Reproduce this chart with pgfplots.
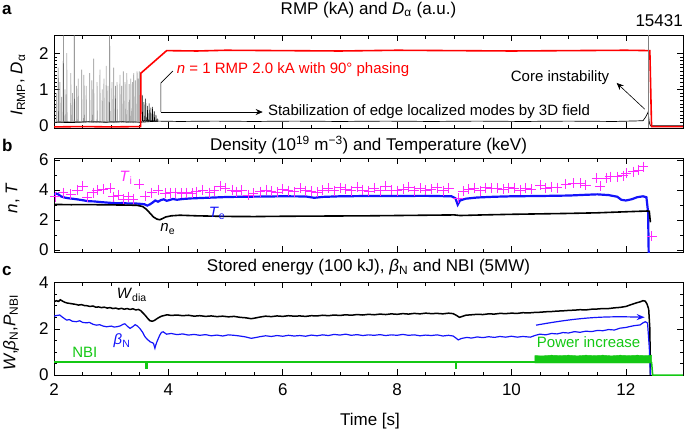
\documentclass[border=0pt]{standalone}
\usepackage{fontspec}
\setmainfont{Liberation Sans}
\usepackage{pgfplots}
\pgfplotsset{compat=1.18}
\usetikzlibrary{arrows.meta}

\definecolor{rmpred}{RGB}{255,0,0}
\definecolor{tiMag}{RGB}{255,40,255}
\definecolor{teBlue}{RGB}{20,20,250}
\definecolor{nbiGreen}{RGB}{20,200,20}

\newcommand{\fT}{\fontsize{17}{19}\selectfont}
\newcommand{\fN}{\fontsize{15}{17}\selectfont}

\pgfplotsset{
  panel/.style={
    scale only axis, width=629pt, anchor=south west,
    xmin=2, xmax=13, xtick={2,4,6,8,10,12}, minor x tick num=3,
    tick align=inside, major tick length=6pt, minor tick length=3.5pt,
    axis line style={line width=0.8pt},
    every tick/.style={black, line width=0.6pt},
    tick label style={font=\fT},
    xticklabel style={yshift=-5pt},
    yticklabel style={xshift=-2pt},
    /pgf/number format/assume math mode=true,
  }
}

\begin{document}
\begin{tikzpicture}

% ---------- a: RMP and D-alpha
\begin{axis}[panel, at={(54pt,-128pt)}, height=93pt,
    ymin=-0.06, ymax=2.5, ytick={0,1,2}, minor y tick num=9,
    xticklabels={}]
  % ELM spikes before RMP
  \addplot[black!30, line width=0.8pt] coordinates {
    (2.00,0.1)(2.04,0.1)(2.043,0.9)(2.05,0.12)(2.10,0.1)(2.103,1.2)(2.11,0.12)
    (2.13,0.1)(2.133,0.8)(2.14,0.12)(2.19,0.1)(2.193,1.0)(2.20,0.12)
    (2.22,0.1)(2.223,2.0)(2.23,0.12)(2.29,0.1)(2.293,1.45)(2.30,0.12)
    (2.32,0.1)(2.323,0.9)(2.33,0.12)(2.39,0.1)(2.393,1.1)(2.40,0.12)
    (2.42,0.1)(2.423,1.3)(2.43,0.12)(2.48,0.1)(2.483,1.55)(2.49,0.12)
    (2.56,0.1)(2.563,1.1)(2.57,0.12)(2.62,0.1)(2.623,1.45)(2.63,0.12)
    (2.69,0.1)(2.693,1.85)(2.70,0.12)(2.75,0.1)(2.753,1.2)(2.76,0.12)
    (2.80,0.1)(2.803,1.55)(2.81,0.12)(2.84,0.1)(2.843,1.0)(2.85,0.12)
    (2.87,0.1)(2.873,1.3)(2.88,0.12)(2.91,0.1)(2.913,1.65)(2.92,0.12)
    (2.94,0.1)(2.943,1.1)(2.95,0.12)(3.01,0.1)(3.013,1.2)(3.02,0.12)
    (3.04,0.1)(3.043,1.6)(3.05,0.12)(3.10,0.1)(3.103,1.2)(3.11,0.12)
    (3.15,0.1)(3.153,1.4)(3.16,0.12)(3.18,0.1)(3.183,1.1)(3.19,0.12)
    (3.21,0.1)(3.213,1.5)(3.22,0.12)(3.24,0.1)(3.243,1.2)(3.25,0.12)
    (3.27,0.1)(3.273,1.45)(3.28,0.12)(3.34,0.1)(3.343,1.3)(3.35,0.12)
    (3.37,0.1)(3.373,1.2)(3.38,0.12)(3.39,0.1)(3.393,1.45)(3.40,0.12)
    (3.42,0.1)(3.423,1.25)(3.43,0.12)(3.45,0.1)(3.453,1.5)(3.46,0.12)
    (3.47,0.1)(3.473,1.3)(3.48,0.12)(3.49,0.1)(3.493,1.5)(3.50,0.12)
  };
  \addplot[black!60, line width=0.5pt] coordinates {
    (2.07,0.1)(2.073,1.6)(2.08,0.12)(2.16,0.1)(2.163,3.0)(2.17,0.12)
    (2.35,0.1)(2.353,3.0)(2.36,0.12)(2.52,0.1)(2.523,1.4)(2.53,0.12)
    (2.66,0.1)(2.663,1.25)(2.67,0.12)(2.97,0.1)(2.973,3.0)(2.98,0.12)
    (3.07,0.1)(3.073,1.1)(3.08,0.12)(3.31,0.1)(3.313,1.15)(3.32,0.12)
  };
  % smaller ELMs after RMP
  \addplot[black, line width=0.5pt] coordinates {
    (3.52,0.1)(3.54,0.12)(3.543,0.85)(3.55,0.15)(3.57,0.12)(3.573,0.65)(3.58,0.15)
    (3.60,0.12)(3.603,0.75)(3.61,0.15)(3.63,0.12)(3.633,0.55)(3.64,0.15)
    (3.66,0.12)(3.663,0.62)(3.67,0.15)(3.69,0.12)(3.693,0.5)(3.70,0.15)
    (3.72,0.12)(3.723,0.52)(3.73,0.15)(3.75,0.12)(3.753,0.4)(3.76,0.14)
    (3.78,0.12)(3.783,0.3)(3.79,0.13)(3.81,0.12)(3.813,0.2)(3.82,0.12)
  };
  % D-alpha baseline
  \addplot[black, line width=0.7pt] coordinates {
    (2.0,0.10)(2.3,0.09)(2.6,0.11)(2.9,0.10)(3.2,0.11)(3.52,0.10)
    (3.82,0.13)(4.2,0.12)(4.8,0.13)(5.5,0.12)(6.2,0.13)(7.0,0.12)(7.8,0.13)
    (8.6,0.12)(9.4,0.13)(10.2,0.12)(11.0,0.13)(11.8,0.12)(12.3,0.14)
    (12.35,0.25)(12.39,0.38)(12.41,0.10)(12.43,0.0)(13,0.0)
  };
  % RMP coil current
  \addplot[rmpred, line width=1.6pt] coordinates {
    (2.00,-0.03)(2.5,-0.02)(3.0,-0.03)(3.515,-0.02)(3.52,1.45)(3.97,2.07)
    (4.5,2.06)(5.0,2.08)(6.0,2.07)(7.0,2.06)(8.0,2.08)(9.0,2.07)
    (10.0,2.06)(11.0,2.07)(12.0,2.08)(12.42,2.07)(12.45,-0.02)(13,-0.02)
  };
  \draw[gray, line width=0.5pt] (axis cs:12.40,-0.06) -- (axis cs:12.40,2.5);
  \node[rmpred, font=\fN] at (axis cs:6.18,1.54)
    {\textit{n} = 1 RMP 2.0 kA with 90° phasing};
  \draw[black, line width=0.6pt] (axis cs:4.08,1.51) -- (axis cs:3.87,1.18)
    -- (axis cs:3.87,0.38);
  \draw[black, line width=0.6pt, -{Stealth[length=7pt,width=6pt]}]
    (axis cs:3.87,0.38) -- (axis cs:5.65,0.38);
  \node[anchor=west, font=\fN, inner sep=0pt] at (axis cs:5.74,0.39)
    {Stabilization of edge localized modes by 3D field};
  \node[font=\fN] at (axis cs:10.85,1.34) {Core instability};
  \draw[black, line width=0.6pt, -{Stealth[length=7pt,width=6pt]}]
    (axis cs:12.33,0.46) -- (axis cs:11.84,1.18);
\end{axis}

% ---------- b: density and temperature
\begin{axis}[panel, at={(54pt,-252pt)}, height=94pt,
    ymin=-0.13, ymax=6.13, ytick={0,2,4,6}, minor y tick num=1,
    xticklabels={}]
  \addplot[only marks, mark=+, mark size=5pt, tiMag, mark options={line width=0.6pt}]
  coordinates {
    (2.02,3.55)(2.16,3.82)(2.29,3.73)(2.40,4.00)(2.50,4.27)(2.58,3.51)(2.68,3.82)
    (2.75,4.00)(2.86,4.04)(2.98,4.11)(3.04,3.56)(3.12,3.67)(3.21,3.38)(3.30,3.56)
    (3.39,3.38)(3.49,4.38)(3.59,3.60)(3.71,3.82)(3.82,4.00)(3.94,3.78)(4.03,3.82)
    (4.13,3.82)(4.23,3.78)(4.32,3.82)(4.42,3.78)(4.49,3.89)(4.60,4.00)(4.72,3.82)
    (4.80,3.96)(4.91,4.27)(4.99,4.11)(5.11,4.00)(5.19,3.89)(5.28,4.00)(5.40,3.67)
    (5.48,3.78)(5.60,3.89)(5.71,4.00)(5.80,3.90)(5.90,3.85)(6.00,4.05)(6.10,3.95)
    (6.20,3.88)(6.30,4.10)(6.40,3.95)(6.50,3.90)(6.60,3.85)(6.70,4.00)(6.80,4.10)
    (6.90,3.95)(7.00,4.15)(7.10,4.05)(7.20,3.95)(7.30,4.20)(7.40,4.00)(7.50,3.90)
    (7.60,4.10)(7.70,3.95)(7.80,4.25)(7.90,4.00)(8.00,3.95)(8.10,4.05)(8.20,4.20)
    (8.30,3.95)(8.40,4.10)(8.50,4.00)(8.60,4.05)(8.70,4.15)(8.80,3.95)(8.90,4.10)
    (9.07,3.45)(9.15,3.90)(9.25,4.05)(9.35,4.10)(9.45,3.95)(9.55,4.15)(9.65,4.10)
    (9.75,4.10)(9.85,4.05)(9.95,4.15)(10.05,4.10)(10.15,4.00)(10.25,4.10)(10.35,4.05)
    (10.50,4.33)(10.60,4.10)(10.70,4.20)(10.80,4.15)(10.95,4.40)(11.08,4.44)
    (11.20,4.44)(11.30,4.30)(11.49,4.78)(11.55,4.25)(11.65,4.80)(11.72,4.89)
    (11.85,4.89)(11.95,4.95)(12.01,5.11)(12.13,5.22)(12.21,5.33)(12.30,5.56)
    (12.45,0.91)
  };
  \addplot[teBlue, line width=2.2pt] coordinates {
    (2.00,3.72)(2.04,3.76)(2.08,3.70)(2.12,3.58)(2.18,3.50)(2.25,3.45)(2.32,3.42)
    (2.40,3.38)(2.50,3.32)(2.60,3.25)(2.70,3.24)(2.80,3.20)(2.90,3.17)(3.00,3.14)
    (3.10,3.12)(3.20,3.13)(3.30,3.10)(3.40,3.11)(3.50,3.08)(3.58,3.05)(3.63,2.96)
    (3.68,3.05)(3.72,3.15)(3.77,3.30)(3.82,3.22)(3.87,3.33)(3.92,3.38)(3.97,3.28)
    (4.02,3.33)(4.08,3.40)(4.15,3.35)(4.25,3.40)(4.40,3.44)(4.60,3.47)(4.80,3.50)
    (5.00,3.53)(5.30,3.55)(5.60,3.56)(6.00,3.58)(6.40,3.57)(6.55,3.48)(6.70,3.54)
    (7.00,3.58)(7.50,3.60)(8.00,3.60)(8.50,3.61)(8.95,3.58)(9.02,3.45)(9.06,3.02)
    (9.10,3.30)(9.20,3.42)(9.40,3.50)(9.70,3.55)(10.00,3.58)(10.50,3.60)(11.00,3.63)
    (11.30,3.68)(11.50,3.71)(11.70,3.66)(11.85,3.55)(11.92,3.35)(12.00,3.30)
    (12.10,3.38)(12.20,3.52)(12.30,3.58)(12.36,3.52)(12.39,2.50)(12.40,-0.30)
  };
  \addplot[black, line width=1.6pt] coordinates {
    (2.00,3.04)(2.30,3.02)(2.60,3.03)(2.90,3.01)(3.20,3.00)(3.45,2.98)(3.55,2.90)
    (3.62,2.70)(3.68,2.45)(3.74,2.20)(3.80,2.06)(3.85,2.02)(3.90,2.10)(3.95,2.20)
    (4.05,2.28)(4.20,2.32)(4.50,2.28)(5.00,2.24)(5.50,2.23)(6.00,2.25)(6.50,2.26)
    (7.00,2.27)(7.50,2.28)(8.00,2.30)(8.50,2.32)(9.00,2.34)(9.10,2.30)(9.50,2.34)
    (10.00,2.38)(10.50,2.41)(11.00,2.44)(11.50,2.48)(12.00,2.55)(12.38,2.60)
    (12.41,2.58)(12.43,1.85)
  };
  \node[tiMag, font=\fN] at (axis cs:3.26,4.8) {\textit{T}\textsubscript{i}};
  \node[teBlue, font=\fN] at (axis cs:4.85,2.42) {\textit{T}\textsubscript{e}};
  \node[black, font=\fN] at (axis cs:3.99,1.4) {\textit{n}\textsubscript{e}};
\end{axis}

% ---------- c: stored energy, beta_N and NBI
\begin{axis}[panel, at={(54pt,-375pt)}, height=93pt,
    ymin=0, ymax=4.03, ytick={0,2,4}, minor y tick num=3]
  \addplot[black, line width=1.5pt] coordinates {
    (2.00,3.17)(2.04,3.22)(2.08,3.19)(2.11,3.26)(2.15,3.20)(2.19,3.15)(2.23,3.12)
    (2.28,3.10)(2.33,3.08)(2.38,3.06)(2.43,3.03)(2.48,3.05)(2.53,3.01)(2.58,3.00)
    (2.63,2.97)(2.68,2.99)(2.73,2.94)(2.78,2.95)(2.83,2.92)(2.88,2.94)(2.93,2.90)
    (2.98,2.92)(3.03,2.88)(3.08,2.90)(3.13,2.86)(3.18,2.89)(3.23,2.85)(3.28,2.88)
    (3.33,2.84)(3.38,2.87)(3.43,2.82)(3.48,2.84)(3.52,2.78)(3.56,2.68)(3.60,2.57)
    (3.64,2.45)(3.68,2.35)(3.72,2.33)(3.76,2.37)(3.80,2.44)(3.84,2.50)(3.88,2.55)
    (3.93,2.58)(3.98,2.61)(4.05,2.58)(4.15,2.60)(4.25,2.57)(4.35,2.59)(4.45,2.55)
    (4.55,2.57)(4.65,2.54)(4.75,2.56)(4.85,2.53)(4.95,2.55)(5.05,2.52)(5.15,2.54)
    (5.25,2.50)(5.35,2.48)(5.45,2.44)(5.52,2.47)(5.60,2.51)(5.70,2.55)(5.80,2.53)
    (5.90,2.56)(6.00,2.54)(6.10,2.57)(6.20,2.55)(6.30,2.56)(6.40,2.54)(6.50,2.57)
    (6.60,2.56)(6.70,2.59)(6.80,2.57)(6.90,2.60)(7.00,2.58)(7.10,2.61)(7.20,2.59)
    (7.30,2.62)(7.40,2.60)(7.50,2.63)(7.60,2.61)(7.70,2.64)(7.80,2.62)(7.90,2.65)
    (8.00,2.63)(8.10,2.66)(8.20,2.64)(8.30,2.67)(8.40,2.65)(8.50,2.68)(8.60,2.66)
    (8.70,2.67)(8.80,2.65)(8.90,2.68)(8.98,2.66)(9.04,2.58)(9.09,2.50)(9.14,2.54)
    (9.20,2.59)(9.30,2.61)(9.40,2.63)(9.50,2.62)(9.60,2.65)(9.70,2.64)(9.80,2.67)
    (9.90,2.66)(10.00,2.68)(10.10,2.67)(10.20,2.70)(10.30,2.69)(10.40,2.71)
    (10.50,2.72)(10.60,2.74)(10.70,2.75)(10.80,2.77)(10.90,2.78)(11.00,2.80)
    (11.10,2.81)(11.20,2.83)(11.30,2.82)(11.40,2.85)(11.50,2.86)(11.60,2.88)
    (11.70,2.88)(11.80,2.91)(11.90,2.93)(12.00,2.97)(12.07,3.03)(12.13,3.08)
    (12.19,3.13)(12.25,3.17)(12.30,3.22)(12.34,3.20)(12.37,3.08)(12.40,2.85)
    (12.42,2.00)(12.43,0.00)
  };
  \addplot[teBlue, line width=1.2pt] coordinates {
    (2.00,2.55)(2.05,2.58)(2.10,2.60)(2.14,2.52)(2.18,2.45)(2.22,2.38)(2.27,2.40)
    (2.32,2.33)(2.39,2.31)(2.45,2.35)(2.50,2.28)(2.57,2.26)(2.62,2.28)(2.68,2.20)
    (2.74,2.16)(2.80,2.18)(2.86,2.12)(2.92,2.09)(3.00,2.12)(3.05,2.08)(3.10,2.09)
    (3.16,2.13)(3.21,2.20)(3.24,2.22)(3.28,2.12)(3.33,2.02)(3.38,2.10)(3.42,2.18)
    (3.46,2.12)(3.50,2.02)(3.55,1.85)(3.59,1.66)(3.63,1.55)(3.68,1.44)(3.72,1.40)
    (3.74,1.37)(3.765,1.16)(3.78,1.30)(3.80,1.44)(3.85,1.73)(3.88,1.85)(3.91,1.87)
    (3.95,1.80)(3.97,1.77)(4.05,1.80)(4.15,1.75)(4.25,1.78)(4.35,1.73)(4.45,1.76)
    (4.55,1.72)(4.65,1.75)(4.75,1.70)(4.85,1.73)(4.95,1.69)(5.05,1.74)(5.15,1.72)
    (5.25,1.69)(5.35,1.65)(5.45,1.59)(5.52,1.62)(5.60,1.66)(5.70,1.70)(5.80,1.67)
    (5.90,1.71)(6.00,1.68)(6.10,1.72)(6.20,1.69)(6.30,1.71)(6.40,1.68)(6.50,1.73)
    (6.60,1.70)(6.70,1.74)(6.80,1.71)(6.90,1.76)(7.00,1.73)(7.10,1.77)(7.20,1.72)
    (7.30,1.75)(7.40,1.71)(7.50,1.74)(7.60,1.72)(7.70,1.75)(7.80,1.71)(7.90,1.74)
    (8.00,1.72)(8.10,1.76)(8.20,1.72)(8.30,1.74)(8.40,1.70)(8.50,1.73)(8.60,1.71)
    (8.70,1.74)(8.80,1.69)(8.90,1.72)(8.98,1.69)(9.03,1.60)(9.07,1.52)(9.12,1.58)
    (9.22,1.63)(9.30,1.60)(9.40,1.65)(9.50,1.62)(9.60,1.66)(9.70,1.63)(9.80,1.67)
    (9.90,1.64)(10.00,1.68)(10.10,1.64)(10.20,1.67)(10.33,1.64)(10.42,1.72)
    (10.50,1.77)(10.60,1.74)(10.70,1.80)(10.80,1.78)(10.90,1.84)(11.00,1.82)
    (11.10,1.88)(11.20,1.85)(11.30,1.90)(11.40,1.88)(11.50,1.93)(11.60,1.92)
    (11.70,1.97)(11.80,1.95)(11.90,2.03)(12.00,2.06)(12.07,2.10)(12.15,2.14)
    (12.25,2.17)(12.30,2.26)(12.34,2.31)(12.38,2.25)(12.41,1.20)(12.43,0.00)
  };
  % NBI power
  \addplot[nbiGreen, line width=1.5pt] coordinates {
    (2.00,0.57)(3.61,0.57)(3.61,0.30)(3.63,0.30)(3.63,0.57)(9.02,0.57)(9.02,0.30)
    (9.04,0.30)(9.04,0.57)(10.41,0.57)
  };
  \addplot[nbiGreen, fill=nbiGreen, line width=0.4pt] coordinates {
    (10.41,0.52)(10.41,0.84)(10.55,0.83)(10.7,0.86)(10.85,0.84)(11.0,0.86)
    (11.15,0.83)(11.3,0.86)(11.45,0.84)(11.6,0.86)(11.75,0.83)(11.9,0.86)
    (12.05,0.84)(12.2,0.86)(12.35,0.84)(12.45,0.86)(12.45,0.52)(10.41,0.52)
  };
  \addplot[nbiGreen, line width=1.5pt] coordinates {
    (12.45,0.57)(12.47,0.0)(13,0.0)
  };
  \draw[teBlue, line width=1.2pt, -{Stealth[length=8pt,width=6pt]}]
    (axis cs:10.43,2.16) to[bend left=6] (axis cs:12.33,2.50);
  \node[black, font=\fN] at (axis cs:3.36,3.46) {\textit{W}\textsubscript{dia}};
  \node[teBlue, font=\fN] at (axis cs:3.19,1.47) {\textit{β}\textsubscript{N}};
  \node[nbiGreen, font=\fN] at (axis cs:2.54,0.97) {NBI};
  \node[nbiGreen, font=\fN] at (axis cs:11.35,1.42) {Power increase};
\end{axis}

% titles, panel letters and axis labels
\node[font=\fT, anchor=base] at (368.5pt,-14pt) {RMP (kA) and \textit{D}\textsubscript{α} (a.u.)};
\node[font=\fT, anchor=base east, inner sep=0pt] at (683pt,-26.7pt) {15431};
\node[font=\fT, anchor=base] at (368.5pt,-150.7pt)
  {Density (10\textsuperscript{19} m\textsuperscript{−3}) and Temperature (keV)};
\node[font=\fT, anchor=base] at (368.5pt,-271.7pt)
  {Stored energy (100 kJ), \textit{β}\textsubscript{N} and NBI (5MW)};
\node[font=\fT\bfseries, anchor=base west, inner sep=0pt] at (2pt,-14pt) {a};
\node[font=\fT\bfseries, anchor=base west, inner sep=0pt] at (2pt,-151pt) {b};
\node[font=\fT\bfseries, anchor=base west, inner sep=0pt] at (2pt,-275pt) {c};
\node[font=\fT, rotate=90] at (18pt,-85pt) {\textit{I}\textsubscript{RMP}, \textit{D}\textsubscript{α}};
\node[font=\fT, rotate=90] at (12.5pt,-198pt) {\textit{n}, \textit{T}};
\node[font=\fT, rotate=90] at (11pt,-333pt)
  {\textit{W},\textit{β}\textsubscript{N},\textit{P}\textsubscript{NBI}};
\node[font=\fT, anchor=base] at (370pt,-425pt) {Time [s]};

\pgfresetboundingbox
\useasboundingbox (0pt,0pt) rectangle (685pt,-429pt);
\end{tikzpicture}
\end{document}
